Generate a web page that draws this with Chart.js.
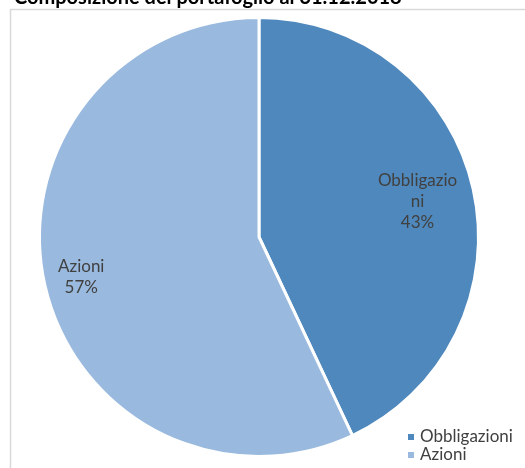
<!DOCTYPE html>
<html>
<head>
<meta charset="utf-8">
<script src="https://cdn.jsdelivr.net/npm/chart.js@4"></script>
<style>
  html, body { margin: 0; padding: 0; background: #fff; overflow: hidden; }
  #wrap { position: relative; width: 525px; height: 468px; }
</style>
</head>
<body>
<div id="wrap"><canvas id="chart" width="525" height="468"></canvas></div>
<script>
'use strict'

const titolo = 'Composizione del portafoglio al 31.12.2018';
const categorie = ['Obbligazioni', 'Azioni'];
const etichette = [['Obbligazio', 'ni'], ['Azioni']];
const valori = [43, 57];
const colori = ['#4f88bc', '#99b9de'];

const FONT = 'Lato, "Open Sans", sans-serif';

// title (partly out of view), frame, slice labels and legend
const decorazioni = {
    id: 'decorazioni',
    beforeDraw(chart) {
        const ctx = chart.ctx;
        ctx.save();
        ctx.strokeStyle = '#d9d9d9';
        ctx.lineWidth = 1.5;
        ctx.beginPath();
        ctx.moveTo(10.5, 470);
        ctx.lineTo(10.5, 9.5);
        ctx.lineTo(530, 9.5);
        ctx.stroke();
        ctx.restore();
    },
    afterDraw(chart) {
        const ctx = chart.ctx;
        ctx.save();
        ctx.fillStyle = '#000';
        ctx.font = 'bold 20px ' + FONT;
        ctx.textBaseline = 'alphabetic';
        ctx.textAlign = 'left';
        ctx.fillText(titolo, 14, 4);

        // slice labels
        const fattori = [0.74, 0.83];
        const meta = chart.getDatasetMeta(0);
        ctx.fillStyle = '#404040';
        ctx.font = '17px ' + FONT;
        ctx.textAlign = 'center';
        ctx.textBaseline = 'middle';
        meta.data.forEach((arc, i) => {
            const p = arc.getProps(['x', 'y', 'startAngle', 'endAngle', 'outerRadius'], true);
            const a = (p.startAngle + p.endAngle) / 2;
            const r = p.outerRadius * fattori[i];
            const cx = p.x + Math.cos(a) * r;
            const cy = p.y + Math.sin(a) * r;
            const righe = etichette[i].concat([valori[i] + '%']);
            const h = 21;
            righe.forEach((t, j) => {
                ctx.fillText(t, cx, cy + (j - (righe.length - 1) / 2) * h);
            });
        });

        // legend
        ctx.textAlign = 'left';
        categorie.forEach((c, i) => {
            const y = 437 + i * 18;
            ctx.fillStyle = colori[i];
            ctx.fillRect(408, y - 3, 6, 6);
            ctx.fillStyle = '#404040';
            ctx.fillText(c, 420, y);
        });
        ctx.restore();
    }
};

const ctx = document.getElementById('chart').getContext('2d');
const grafico = new Chart(ctx, {
    type: 'pie',
    data: {
        labels: categorie,
        datasets: [{
            data: valori,
            backgroundColor: colori,
            borderColor: '#ffffff',
            borderWidth: 3
        }]
    },
    options: {
        responsive: false,
        animation: false,
        layout: { padding: { top: 16, bottom: 10, left: 38, right: 45 } },
        plugins: {
            legend: { display: false },
            tooltip: { enabled: false }
        }
    },
    plugins: [decorazioni]
});
</script>
</body>
</html>
